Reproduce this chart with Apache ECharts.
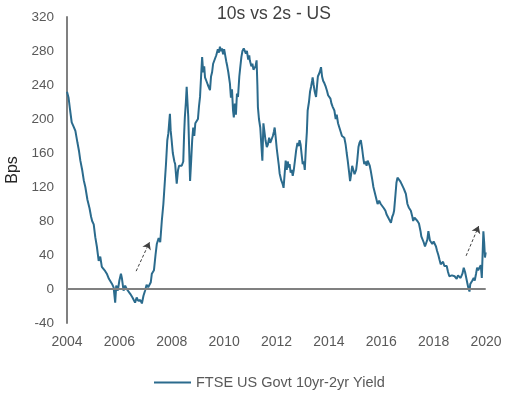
<!DOCTYPE html>
<html>
<head>
<meta charset="utf-8">
<script src="https://cdn.jsdelivr.net/npm/echarts@6/dist/echarts.min.js"></script>
<style>
html,body{margin:0;padding:0;background:#fff;}
#chart{width:514px;height:396px;}
</style>
</head>
<body>
<div id="chart"></div>
<script>
var titleText = "10s vs 2s - US";
var seriesName = "FTSE US Govt 10yr-2yr Yield";
var yAxisName = "Bps";
var xTicks = [2004, 2006, 2008, 2010, 2012, 2014, 2016, 2018, 2020];
var yTicks = [-40, 0, 40, 80, 120, 160, 200, 240, 280, 320];

var dates = [
2004.00,2004.06,2004.12,2004.18,2004.24,2004.32,2004.40,2004.46,2004.51,2004.58,
2004.64,2004.70,2004.78,2004.86,2004.92,2004.96,2005.02,2005.08,2005.14,2005.21,
2005.27,2005.33,2005.40,2005.46,2005.52,2005.60,2005.66,2005.72,2005.78,2005.84,
2005.88,2005.94,2006.00,2006.06,2006.10,2006.16,2006.22,2006.28,2006.35,2006.42,
2006.50,2006.56,2006.60,2006.66,2006.72,2006.80,2006.86,2006.92,2006.98,2007.04,
2007.10,2007.16,2007.20,2007.24,2007.32,2007.38,2007.43,2007.50,2007.56,2007.62,
2007.68,2007.72,2007.78,2007.83,2007.87,2007.90,2007.93,2007.96,2007.99,2008.04,
2008.10,2008.13,2008.19,2008.24,2008.28,2008.32,2008.38,2008.44,2008.47,2008.50,
2008.54,2008.57,2008.60,2008.63,2008.67,2008.70,2008.74,2008.78,2008.82,2008.86,
2008.90,2008.95,2009.00,2009.04,2009.08,2009.12,2009.16,2009.20,2009.24,2009.27,
2009.32,2009.38,2009.42,2009.46,2009.50,2009.54,2009.58,2009.64,2009.70,2009.76,
2009.80,2009.84,2009.88,2009.92,2009.96,2010.00,2010.03,2010.08,2010.12,2010.16,
2010.22,2010.26,2010.30,2010.34,2010.37,2010.41,2010.45,2010.49,2010.53,2010.58,
2010.62,2010.66,2010.70,2010.75,2010.79,2010.83,2010.87,2010.92,2010.96,2010.98,
2011.04,2011.08,2011.12,2011.17,2011.20,2011.24,2011.27,2011.29,2011.33,2011.38,
2011.42,2011.46,2011.50,2011.54,2011.58,2011.63,2011.67,2011.72,2011.76,2011.80,
2011.86,2011.90,2011.93,2011.97,2012.01,2012.05,2012.09,2012.12,2012.18,2012.23,
2012.27,2012.31,2012.35,2012.39,2012.43,2012.47,2012.50,2012.54,2012.58,2012.62,
2012.66,2012.70,2012.75,2012.80,2012.84,2012.88,2012.92,2012.96,2013.00,2013.04,
2013.08,2013.12,2013.16,2013.19,2013.24,2013.28,2013.32,2013.36,2013.38,2013.42,
2013.46,2013.51,2013.55,2013.58,2013.61,2013.65,2013.70,2013.74,2013.78,2013.83,
2013.88,2013.93,2013.97,2014.02,2014.06,2014.10,2014.15,2014.21,2014.26,2014.30,
2014.35,2014.40,2014.45,2014.50,2014.55,2014.59,2014.64,2014.68,2014.72,2014.77,
2014.81,2014.85,2014.89,2014.93,2014.98,2015.04,2015.08,2015.13,2015.17,2015.22,
2015.27,2015.31,2015.35,2015.40,2015.44,2015.48,2015.52,2015.56,2015.60,2015.66,
2015.70,2015.73,2015.78,2015.82,2015.86,2015.92,2015.98,2016.05,2016.10,2016.16,
2016.20,2016.24,2016.30,2016.37,2016.42,2016.46,2016.49,2016.54,2016.58,2016.62,
2016.68,2016.72,2016.77,2016.81,2016.86,2016.90,2016.94,2017.00,2017.05,2017.09,
2017.13,2017.18,2017.22,2017.27,2017.32,2017.38,2017.44,2017.50,2017.53,2017.57,
2017.62,2017.67,2017.72,2017.76,2017.80,2017.82,2017.86,2017.90,2017.95,2018.00,
2018.04,2018.09,2018.13,2018.18,2018.22,2018.27,2018.32,2018.36,2018.41,2018.46,
2018.50,2018.55,2018.60,2018.65,2018.70,2018.75,2018.80,2018.84,2018.88,2018.93,
2018.98,2019.03,2019.06,2019.10,2019.15,2019.20,2019.24,2019.28,2019.32,2019.34,
2019.37,2019.40,2019.44,2019.48,2019.53,2019.57,2019.62,2019.66,2019.70,2019.75,
2019.80,2019.84,2019.87,2019.90,2019.93,2019.96,2019.99
];

var values = [
232,225,210,196,192,186,172,162,151,140,
128,120,105,95,85,80,76,61,50,33,
38,26,28,21,18,12,10,6,2,-16,
4,-2,10,18,12,-2,4,0,-2,-6,
-10,-8,-16,-10,-14,-13,-17,-8,-2,5,
2,0,8,18,22,40,53,60,55,80,
100,102,147,175,183,195,206,186,177,160,
150,147,124,140,145,147,145,150,180,202,
220,238,220,203,160,127,150,175,190,180,
195,195,200,215,226,250,273,255,262,249,
245,240,238,234,250,255,265,270,275,282,
278,285,280,283,276,282,277,268,262,255,
242,225,235,210,202,218,205,230,226,250,
262,273,280,283,285,277,280,270,275,269,
262,265,258,257,262,269,240,214,200,190,
170,151,195,185,175,167,170,178,172,175,
180,185,190,178,165,163,145,136,128,124,
119,135,151,140,150,143,147,137,140,133,
140,150,163,172,168,175,170,158,147,150,
140,165,185,210,220,232,238,245,249,240,
232,226,240,250,249,255,261,250,245,242,
238,233,228,226,224,218,214,210,200,205,
195,190,188,180,182,178,170,160,151,138,
127,135,145,143,135,140,150,167,172,175,
165,155,147,150,145,151,148,145,139,128,
120,119,110,105,100,104,100,102,95,92,
88,86,82,78,85,88,92,110,125,131,
133,127,124,124,118,115,112,100,96,95,
92,86,80,84,83,80,77,68,62,60,
55,50,48,58,68,66,57,55,53,56,
55,50,45,40,35,29,30,32,27,29,
27,20,15,13,16,14,15,15,12,16,
14,13,15,18,25,20,18,8,2,0,
-3,6,4,10,13,10,18,25,22,20,
28,13,12,68,55,37,43
];

// dashed arrow annotations: [startX, startY, endX, endY] in data units
var arrow1 = [2006.64, 21, 2007.15, 55];
var arrow2 = [2019.24, 39, 2019.72, 74];

var lineData = dates.map(function (d, i) { return [d, values[i]]; });

var chart = echarts.init(document.getElementById('chart'), null, {renderer: 'canvas'});
var textColor = '#595959';
var font = 'Liberation Sans, Arial, sans-serif';

chart.setOption({
  animation: false,
  backgroundColor: '#ffffff',
  title: {
    text: titleText,
    left: 269,
    textAlign: 'center',
    top: 0,
    textStyle: {fontFamily: font, fontSize: 17.5, fontWeight: 'normal', color: '#404040'}
  },
  legend: {
    data: [seriesName],
    left: 149,
    top: 370,
    icon: 'rect',
    itemWidth: 37,
    itemHeight: 2,
    itemGap: 5,
    textStyle: {fontFamily: font, fontSize: 14.5, color: textColor}
  },
  grid: {left: 67, right: 28, top: 17, bottom: 73, containLabel: false, outerBoundsMode: 'none'},
  xAxis: {
    type: 'value',
    min: xTicks[0],
    max: xTicks[xTicks.length - 1],
    interval: 2,
    axisLine: {show: false},
    axisTick: {show: false},
    splitLine: {show: false},
    axisLabel: {
      margin: 12,
      fontFamily: font, fontSize: 14, color: textColor,
      formatter: function (v) { return String(Math.round(v)); }
    }
  },
  yAxis: {
    type: 'value',
    min: yTicks[0],
    max: yTicks[yTicks.length - 1],
    interval: 40,
    name: yAxisName,
    nameLocation: 'middle',
    nameGap: 45,
    nameRotate: 90,
    nameTextStyle: {fontFamily: font, fontSize: 16, color: '#262626'},
    axisLine: {show: true, lineStyle: {color: '#808080', width: 2}},
    axisTick: {show: false},
    splitLine: {show: false},
    axisLabel: {margin: 13, fontFamily: font, fontSize: 13.5, color: textColor}
  },
  series: [
    {
      name: 'zero',
      type: 'line',
      data: [],
      z: 1,
      silent: true,
      markLine: {
        silent: true,
        symbol: ['none', 'none'],
        label: {show: false},
        lineStyle: {color: '#808080', width: 2, type: 'solid'},
        data: [[{coord: [xTicks[0], 0]}, {coord: [dates[dates.length - 1], 0]}]]
      }
    },
    {
      name: seriesName,
      type: 'line',
      data: lineData,
      z: 3,
      showSymbol: false,
      symbol: 'none',
      lineStyle: {color: '#2b6b8d', width: 2},
      itemStyle: {color: '#2b6b8d'}
    },
    {
      name: 'arrows',
      type: 'line',
      data: [],
      z: 4,
      silent: true,
      markLine: {
        silent: true,
        symbol: ['none', 'arrow'],
        symbolSize: 7,
        label: {show: false},
        lineStyle: {color: '#404040', width: 1, type: [3, 2]},
        data: [
          [{coord: [arrow1[0], arrow1[1]]}, {coord: [arrow1[2], arrow1[3]]}],
          [{coord: [arrow2[0], arrow2[1]]}, {coord: [arrow2[2], arrow2[3]]}]
        ]
      }
    }
  ]
});
</script>
</body>
</html>
